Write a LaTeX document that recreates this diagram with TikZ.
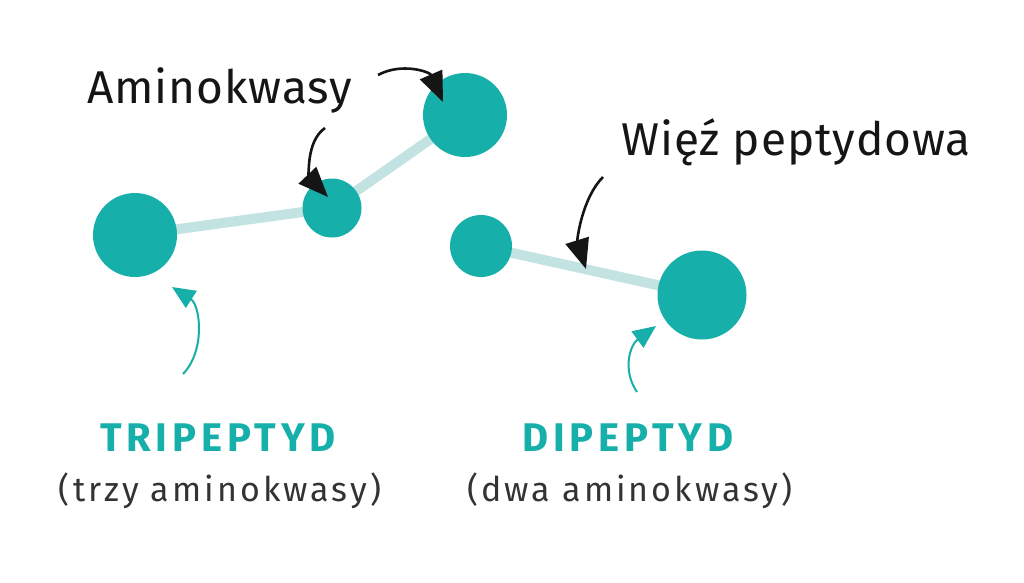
\documentclass[tikz,border=0pt]{standalone}
\usepackage{fontspec}
\setmainfont{Fira Sans}
\newfontfamily\handfont[LetterSpace=2]{Fira Sans}
\newfontfamily\headfont[LetterSpace=12]{Fira Sans}
\newfontfamily\subfont[LetterSpace=9]{Fira Sans}
\usetikzlibrary{arrows.meta}
\pgfdeclarelayer{bg}
\pgfsetlayers{bg,main}
\definecolor{tealone}{HTML}{17AFA9}
\definecolor{bondc}{HTML}{C3E3E3}
\definecolor{inkc}{HTML}{151515}
\definecolor{subc}{HTML}{333333}
\begin{document}
\begin{tikzpicture}[x=1pt,y=-1pt,
  atom/.style={circle,fill=tealone,inner sep=0pt},
  bond/.style={draw=bondc,line width=10pt},
  inkarrow/.style={draw=inkc,line width=2.6pt,-{Triangle[length=30pt,width=24pt]}},
  tealarrow/.style={draw=tealone,line width=2pt,-{Triangle[length=23pt,width=20pt]}},
  hand/.style={font=\handfont\fontsize{46}{50}\selectfont,text=inkc,inner sep=0pt,anchor=base west},
  head/.style={font=\headfont\bfseries\fontsize{40}{44}\selectfont,text=tealone,inner sep=0pt,anchor=base},
  sub/.style={font=\subfont\fontsize{34}{38}\selectfont,text=subc,inner sep=0pt,anchor=base}]
\useasboundingbox (0,0) rectangle (1024,582);

% atoms
\node[atom,minimum size=84pt] (A) at (135,235) {};
\node[atom,minimum size=59pt] (B) at (332,208) {};
\node[atom,minimum size=84pt] (C) at (465,115) {};
\node[atom,minimum size=62pt] (D) at (481,246) {};
\node[atom,minimum size=89pt] (E) at (702,295) {};

% background and bonds
\begin{pgfonlayer}{bg}
\fill[white] (0,0) rectangle (1024,582);
\draw[bond] (A.center) -- (B.center);
\draw[bond] (B.center) -- (C.center);
\draw[bond] (D.center) -- (E.center);
\end{pgfonlayer}

% labels
\node[hand] (amino) at (87,103) {Aminokwasy};
\node[hand] (wiez) at (621,155) {Więź peptydowa};
\node[head] (tri) at (218,451) {TRIPEPTYD};
\node[sub] (trisub) at (220,501) {(trzy aminokwasy)};
\node[head] (di) at (628,451) {DIPEPTYD};
\node[sub] (disub) at (630,501) {(dwa aminokwasy)};

% arrow coordinates
\coordinate (s1) at (378,75);
\coordinate (t1) at (443,102);
\coordinate (s2) at (325,128);
\coordinate (t2) at (328,197);
\coordinate (s3) at (603,177);
\coordinate (t3) at (586,269);
\coordinate (s4) at (183,374);
\coordinate (t4) at (172,287);
\coordinate (s5) at (637,392);
\coordinate (t5) at (656,326);

\draw[inkarrow] (s1) .. controls (402,62) and (430,72) .. (t1);
\draw[inkarrow] (s2) .. controls (305,142) and (310,178) .. (t2);
\draw[inkarrow] (s3) .. controls (582,198) and (577,240) .. (t3);
\draw[tealarrow] (s4) .. controls (206,350) and (200,305) .. (t4);
\draw[tealarrow] (s5) .. controls (622,370) and (630,345) .. (t5);
\end{tikzpicture}
\end{document}
